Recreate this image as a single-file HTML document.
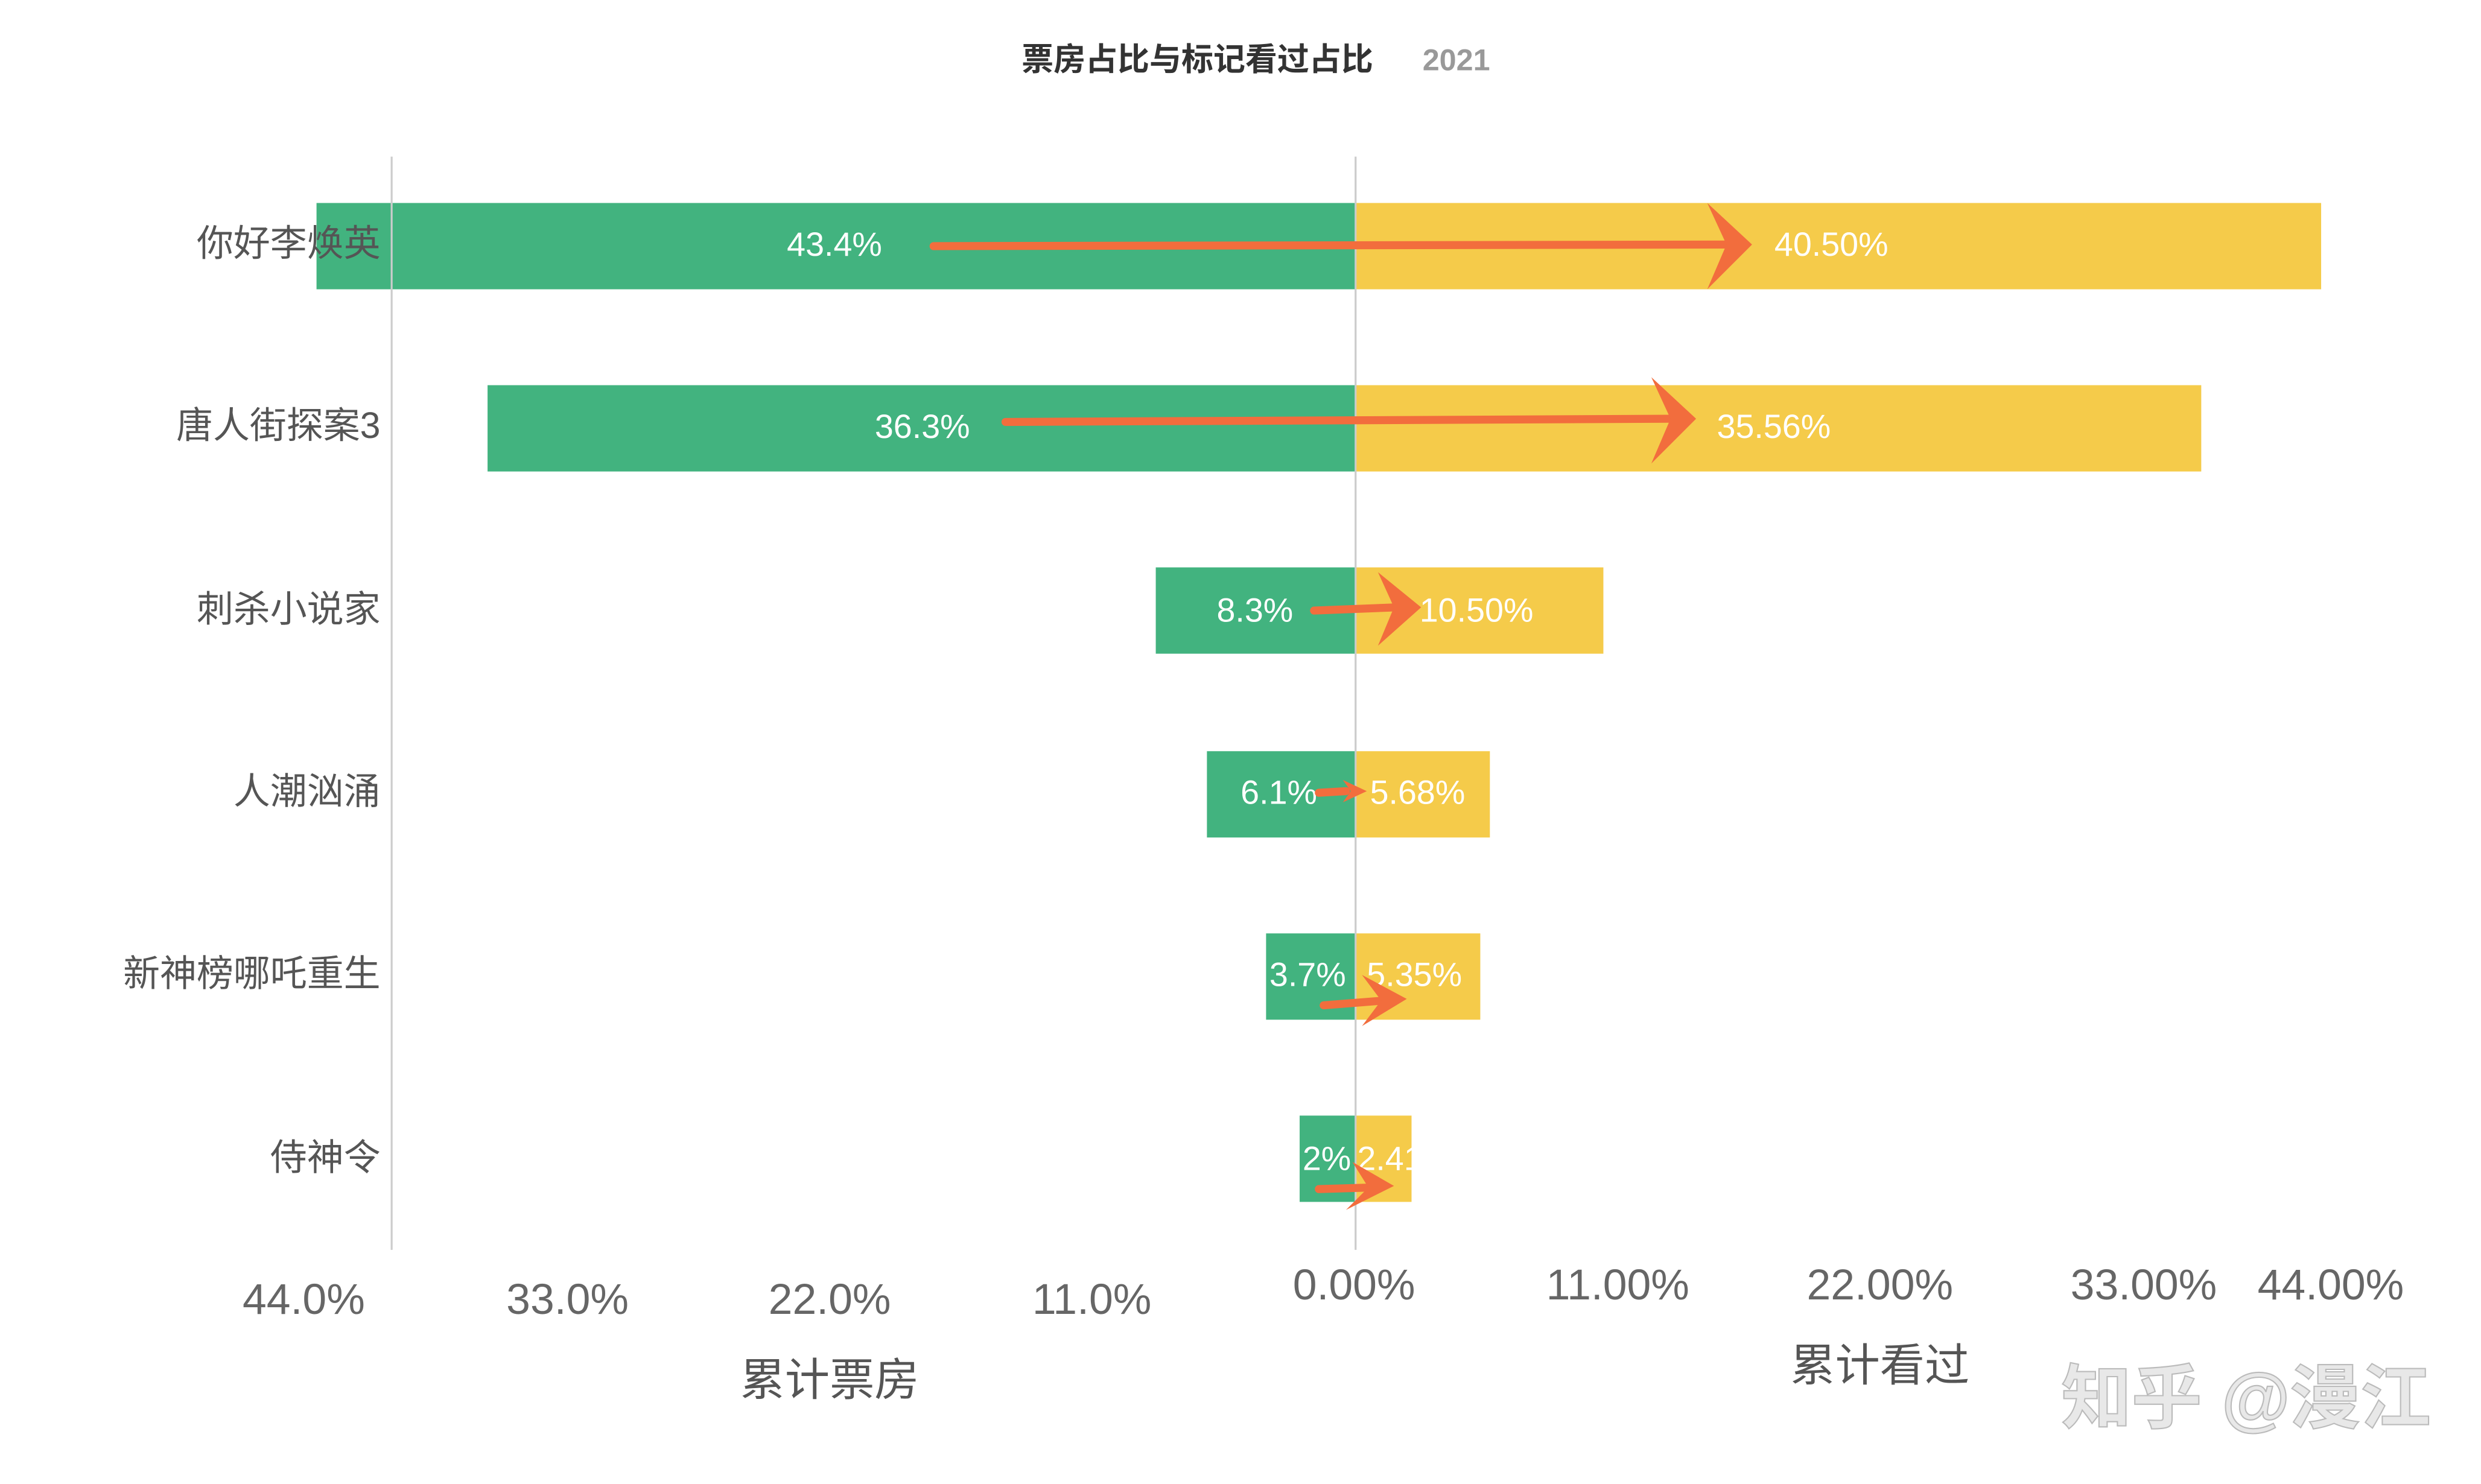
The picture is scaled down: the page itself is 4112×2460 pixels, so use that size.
<!DOCTYPE html>
<html><head><meta charset="utf-8">
<style>
html,body{margin:0;padding:0;background:#fff;}
svg{display:block;}
text{font-family:"Liberation Sans","Noto Sans CJK SC",sans-serif;}
</style></head>
<body>
<svg width="4112" height="2460" viewBox="0 0 1552 928.5" preserveAspectRatio="none" xmlns="http://www.w3.org/2000/svg">
<rect width="1552" height="928.5" fill="#fff"/>
<!-- title -->
<text x="749" y="44" text-anchor="middle" font-size="20" font-weight="bold" fill="#333">票房占比与标记看过占比</text>
<text x="911" y="44" text-anchor="middle" font-size="19" font-weight="bold" fill="#999">2021</text>
<!-- bars -->
<g>
<rect x="198" y="127" width="650" height="54" fill="#42b37f"/><rect x="848" y="127" width="604" height="54" fill="#f5cb4a"/>
<rect x="305" y="241" width="543" height="54" fill="#42b37f"/><rect x="848" y="241" width="529" height="54" fill="#f5cb4a"/>
<rect x="723" y="355" width="125" height="54" fill="#42b37f"/><rect x="848" y="355" width="155" height="54" fill="#f5cb4a"/>
<rect x="755" y="470" width="93" height="54" fill="#42b37f"/><rect x="848" y="470" width="84" height="54" fill="#f5cb4a"/>
<rect x="792" y="584" width="56" height="54" fill="#42b37f"/><rect x="848" y="584" width="78" height="54" fill="#f5cb4a"/>
<rect x="813" y="698" width="35" height="54" fill="#42b37f"/><rect x="848" y="698" width="35" height="54" fill="#f5cb4a"/>
</g>
<!-- axis lines -->
<line x1="245" y1="98" x2="245" y2="782" stroke="#ccc" stroke-width="1.2"/>
<line x1="848" y1="98" x2="848" y2="782" stroke="#ccc" stroke-width="1.2"/>
<!-- category labels -->
<g font-size="23" fill="#555" text-anchor="end">
<text x="238" y="160">你好李焕英</text>
<text x="238" y="274">唐人街探案3</text>
<text x="238" y="389">刺杀小说家</text>
<text x="238" y="503">人潮汹涌</text>
<text x="238" y="617">新神榜哪吒重生</text>
<text x="238" y="732">侍神令</text>
</g>
<!-- value labels -->
<g font-size="21" fill="#fff">
<text x="522" y="160" text-anchor="middle">43.4%</text>
<text x="1110" y="160">40.50%</text>
<text x="577" y="274" text-anchor="middle">36.3%</text>
<text x="1074" y="274">35.56%</text>
<text x="785" y="389" text-anchor="middle">8.3%</text>
<text x="888" y="389">10.50%</text>
<text x="800" y="503" text-anchor="middle">6.1%</text>
<text x="857" y="503">5.68%</text>
<text x="818" y="617" text-anchor="middle">3.7%</text>
<text x="855" y="617">5.35%</text>
<text x="830" y="732" text-anchor="middle">2%</text>
<text x="849" y="732">2.41%</text>
</g>
<!-- arrows -->
<g stroke="#f26d3d" stroke-width="5" stroke-linecap="round" fill="none">
<line x1="584" y1="154" x2="1080" y2="153"/>
<line x1="629" y1="264" x2="1045" y2="262"/>
<line x1="822" y1="382" x2="874" y2="380"/>
<line x1="825" y1="496" x2="842" y2="495"/>
<line x1="828" y1="629" x2="866" y2="626"/>
<line x1="825" y1="744" x2="858" y2="743"/>
</g>
<g fill="#f26d3d">
<polygon points="1096,153 1068,127 1080,153 1068,181"/>
<polygon points="1061,262 1033,236 1045,262 1033,290"/>
<polygon points="889,380 862,358 872,380 862,404"/>
<polygon points="855,495 840,488 845,495 840,502"/>
<polygon points="880,625 852,610 864,626 852,642"/>
<polygon points="872,742 846,727 856,743 842,757"/>
</g>
<!-- axis tick labels -->
<g font-size="27" fill="#666" text-anchor="middle">
<text x="190" y="822">44.0%</text>
<text x="355" y="822">33.0%</text>
<text x="519" y="822">22.0%</text>
<text x="683" y="822">11.0%</text>
<text x="847" y="813">0.00%</text>
<text x="1012" y="813">11.00%</text>
<text x="1176" y="813">22.00%</text>
<text x="1341" y="813">33.00%</text>
<text x="1458" y="813">44.00%</text>
</g>
<g font-size="28" fill="#555" text-anchor="middle">
<text x="519" y="873">累计票房</text>
<text x="1176" y="864">累计看过</text>
</g>
<!-- watermark -->
<text x="1405" y="890" text-anchor="middle" font-size="44" font-weight="bold" fill="#e8e8e8" stroke="#bbb" stroke-width="0.8">知乎 @漫江</text>
</svg>
</body></html>
